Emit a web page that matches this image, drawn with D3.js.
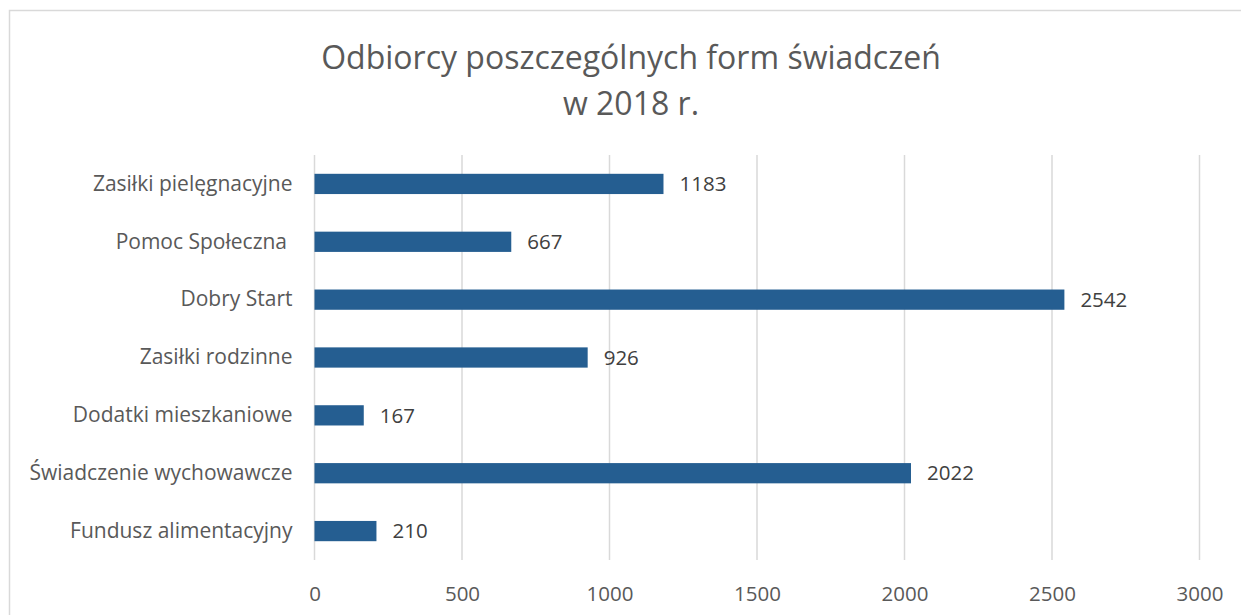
<!DOCTYPE html>
<html>
<head>
<meta charset="utf-8">
<script src="https://cdn.jsdelivr.net/npm/d3@7"></script>
<style>
  body { margin: 0; background: #fff; }
  text { font-family: "Open Sans", sans-serif; white-space: pre; }
</style>
</head>
<body>
<div id="chart"></div>
<script>
var categories = ["Zasiłki pielęgnacyjne", "Pomoc Społeczna ", "Dobry Start", "Zasiłki rodzinne",
                  "Dodatki mieszkaniowe", "Świadczenie wychowawcze", "Fundusz alimentacyjny"];
var values = [1183, 667, 2542, 926, 167, 2022, 210];
var xTicks = [0, 500, 1000, 1500, 2000, 2500, 3000];
var titleLines = ["Odbiorcy poszczególnych form świadczeń", "w 2018 r."];

var W = 1241, H = 615;
var margin = {top: 155, right: 41.5, bottom: 55, left: 314.5},
    width = W - margin.left - margin.right,
    height = H - margin.top - margin.bottom;

var svg = d3.select("#chart").append("svg")
    .attr("width", W).attr("height", H);

// outer chart border
svg.append("rect")
    .attr("x", 9.5).attr("y", 10.5)
    .attr("width", W + 20).attr("height", H + 20)
    .attr("fill", "none").attr("stroke", "#d9d9d9").attr("stroke-width", 1.5);

svg.selectAll(".title").data(titleLines).enter().append("text")
    .attr("x", 631).attr("y", function(d, i) { return 69 + i * 46; })
    .attr("text-anchor", "middle")
    .attr("fill", "#595959")
    .style("font-size", "32px")
    .text(function(d) { return d; });

var g = svg.append("g")
    .attr("transform", "translate(" + margin.left + "," + margin.top + ")");

var x = d3.scaleLinear().domain([0, 3000]).range([0, width]);
var y = d3.scaleBand().domain(categories).range([0, height]).paddingInner(0.65).paddingOuter(0.325);

// gridlines
g.selectAll(".grid").data(xTicks).enter().append("line")
    .attr("x1", function(d) { return x(d); }).attr("x2", function(d) { return x(d); })
    .attr("y1", 0).attr("y2", height)
    .attr("stroke", "#d9d9d9").attr("stroke-width", 1.5);

var xAxis = g.append("g")
    .attr("transform", "translate(0," + height + ")")
    .call(d3.axisBottom(x).tickValues(xTicks).tickSize(0).tickPadding(26).tickFormat(d3.format("d")));
xAxis.select(".domain").remove();
xAxis.selectAll("text").attr("fill", "#595959").style("font-size", "20.5px");

var yAxis = g.append("g")
    .call(d3.axisLeft(y).tickSize(0).tickPadding(22));
yAxis.select(".domain").remove();
yAxis.selectAll("text").attr("fill", "#595959").style("font-size", "21px");

g.selectAll(".bar").data(values).enter().append("rect")
    .attr("x", 0)
    .attr("y", function(d, i) { return y(categories[i]); })
    .attr("width", function(d) { return x(d); })
    .attr("height", y.bandwidth())
    .attr("fill", "#255e91");

g.selectAll(".val").data(values).enter().append("text")
    .attr("x", function(d) { return x(d) + 16; })
    .attr("y", function(d, i) { return y(categories[i]) + y.bandwidth() / 2; })
    .attr("dy", "0.35em")
    .attr("fill", "#404040")
    .style("font-size", "20.5px")
    .text(function(d) { return d; });
</script>
</body>
</html>
